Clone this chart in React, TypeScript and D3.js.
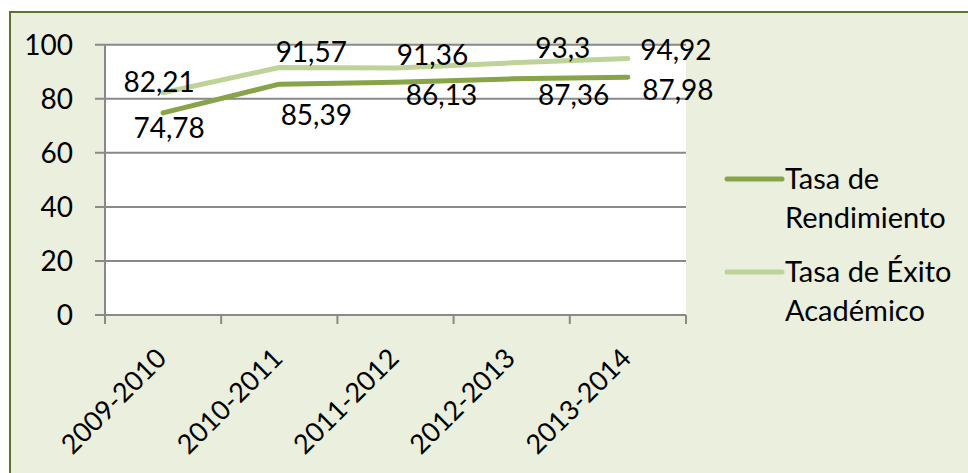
import React, { useEffect, useRef } from 'react';
import * as d3 from 'd3';

// chart values
const periods = ['2009-2010', '2010-2011', '2011-2012', '2012-2013', '2013-2014'];
const tasaRendimiento = [74.78, 85.39, 86.13, 87.36, 87.98];
const tasaExito = [82.21, 91.57, 91.36, 93.3, 94.92];
const yTicks = [0, 20, 40, 60, 80, 100];
const seriesNames = [['Tasa de', 'Rendimiento'], ['Tasa de Éxito', 'Académico']];

// hand-placed label nudges (px) relative to each point, like in the original
const exitoLabelShift = [[-4, -11], [32, -15], [37, -13], [51, -15], [48, -8]];
const rendLabelShift = [[6, 15], [37, 31], [46, 13], [62, 16], [50, 13]];

const WIDTH = 968;
const HEIGHT = 473;
const FONT = 'Lato, "Open Sans", sans-serif';
const DARK = '#87A448';
const LIGHT = '#BDD398';
const GRID = '#898989';

const fmt = (v: number) => String(v).replace('.', ',');

const ChartComponent: React.FC = () => {
  const ref = useRef<SVGSVGElement>(null);

  useEffect(() => {
    const svg = d3.select(ref.current);
    svg.selectAll('*').remove();

    const margin = { left: 105, right: 686, top: 44.7, bottom: 315 };

    // chart area background and border
    svg.append('rect')
      .attr('x', 10).attr('y', 12)
      .attr('width', WIDTH + 20).attr('height', HEIGHT + 20)
      .attr('fill', '#EBEFDE')
      .attr('stroke', '#5B7232')
      .attr('stroke-width', 2);

    const x = d3.scaleBand().domain(periods).range([margin.left, margin.right]);
    const y = d3.scaleLinear().domain([0, 100]).range([margin.bottom, margin.top]);
    const cx = (d: string) => (x(d) as number) + x.bandwidth() / 2;

    svg.append('rect')
      .attr('x', margin.left).attr('y', margin.top)
      .attr('width', margin.right - margin.left)
      .attr('height', margin.bottom - margin.top)
      .attr('fill', 'white');

    // gridlines + y ticks
    const gy = svg.append('g');
    gy.selectAll('line')
      .data(yTicks)
      .enter()
      .append('line')
      .attr('x1', margin.left - 10)
      .attr('x2', margin.right)
      .attr('y1', d => y(d))
      .attr('y2', d => y(d))
      .attr('stroke', GRID)
      .attr('stroke-width', 2);
    gy.selectAll('text')
      .data(yTicks)
      .enter()
      .append('text')
      .attr('x', 73)
      .attr('y', d => y(d) + 10)
      .attr('text-anchor', 'end')
      .attr('font-family', FONT)
      .attr('font-size', 28)
      .attr('fill', 'black')
      .text(d => d);

    // vertical axis
    svg.append('line')
      .attr('x1', margin.left).attr('x2', margin.left)
      .attr('y1', margin.top).attr('y2', margin.bottom)
      .attr('stroke', GRID).attr('stroke-width', 2);

    // x ticks at band edges
    const edges = periods.map(p => x(p) as number).concat([margin.right]);
    svg.append('g')
      .selectAll('line')
      .data(edges)
      .enter()
      .append('line')
      .attr('x1', d => d).attr('x2', d => d)
      .attr('y1', margin.bottom).attr('y2', margin.bottom + 9)
      .attr('stroke', GRID).attr('stroke-width', 2);

    svg.append('g')
      .selectAll('text')
      .data(periods)
      .enter()
      .append('text')
      .attr('transform', d => `translate(${cx(d) + 5}, 360) rotate(-45)`)
      .attr('text-anchor', 'end')
      .attr('font-family', FONT)
      .attr('font-size', 27)
      .attr('fill', 'black')
      .text(d => d);

    // lines
    const series = [
      { values: tasaExito, color: LIGHT, shift: exitoLabelShift },
      { values: tasaRendimiento, color: DARK, shift: rendLabelShift },
    ];
    series.forEach(s => {
      const line = d3.line<number>()
        .x((_, i) => cx(periods[i]))
        .y(v => y(v));
      svg.append('path')
        .attr('d', line(s.values) as string)
        .attr('fill', 'none')
        .attr('stroke', s.color)
        .attr('stroke-width', 5)
        .attr('stroke-linecap', 'round')
        .attr('stroke-linejoin', 'round');
    });
    series.forEach(s => {
      svg.append('g')
        .selectAll('text')
        .data(s.values)
        .enter()
        .append('text')
        .attr('x', (_, i) => cx(periods[i]) + s.shift[i][0])
        .attr('y', (v, i) => y(v) + s.shift[i][1] + 10)
        .attr('text-anchor', 'middle')
        .attr('font-family', FONT)
        .attr('font-size', 28)
        .attr('fill', 'black')
        .text(v => fmt(v));
    });

    // legend
    const legendColors = [DARK, LIGHT];
    const legendTop = [189, 282];
    seriesNames.forEach((names, i) => {
      const g = svg.append('g');
      g.append('line')
        .attr('x1', 727).attr('x2', 782)
        .attr('y1', legendTop[i] - 10).attr('y2', legendTop[i] - 10)
        .attr('stroke', legendColors[i])
        .attr('stroke-width', 5)
        .attr('stroke-linecap', 'round');
      g.selectAll('text')
        .data(names)
        .enter()
        .append('text')
        .attr('x', 785)
        .attr('y', (_, j) => legendTop[i] + j * 39)
        .attr('font-family', FONT)
        .attr('font-size', 29)
        .attr('fill', 'black')
        .text(d => d);
    });
  }, []);

  return (
    <svg
      ref={ref}
      width={WIDTH}
      height={HEIGHT}
      style={{ position: 'absolute', left: 0, top: 0, background: 'white' }}
    />
  );
};

export default function App() {
  return <ChartComponent />;
}
